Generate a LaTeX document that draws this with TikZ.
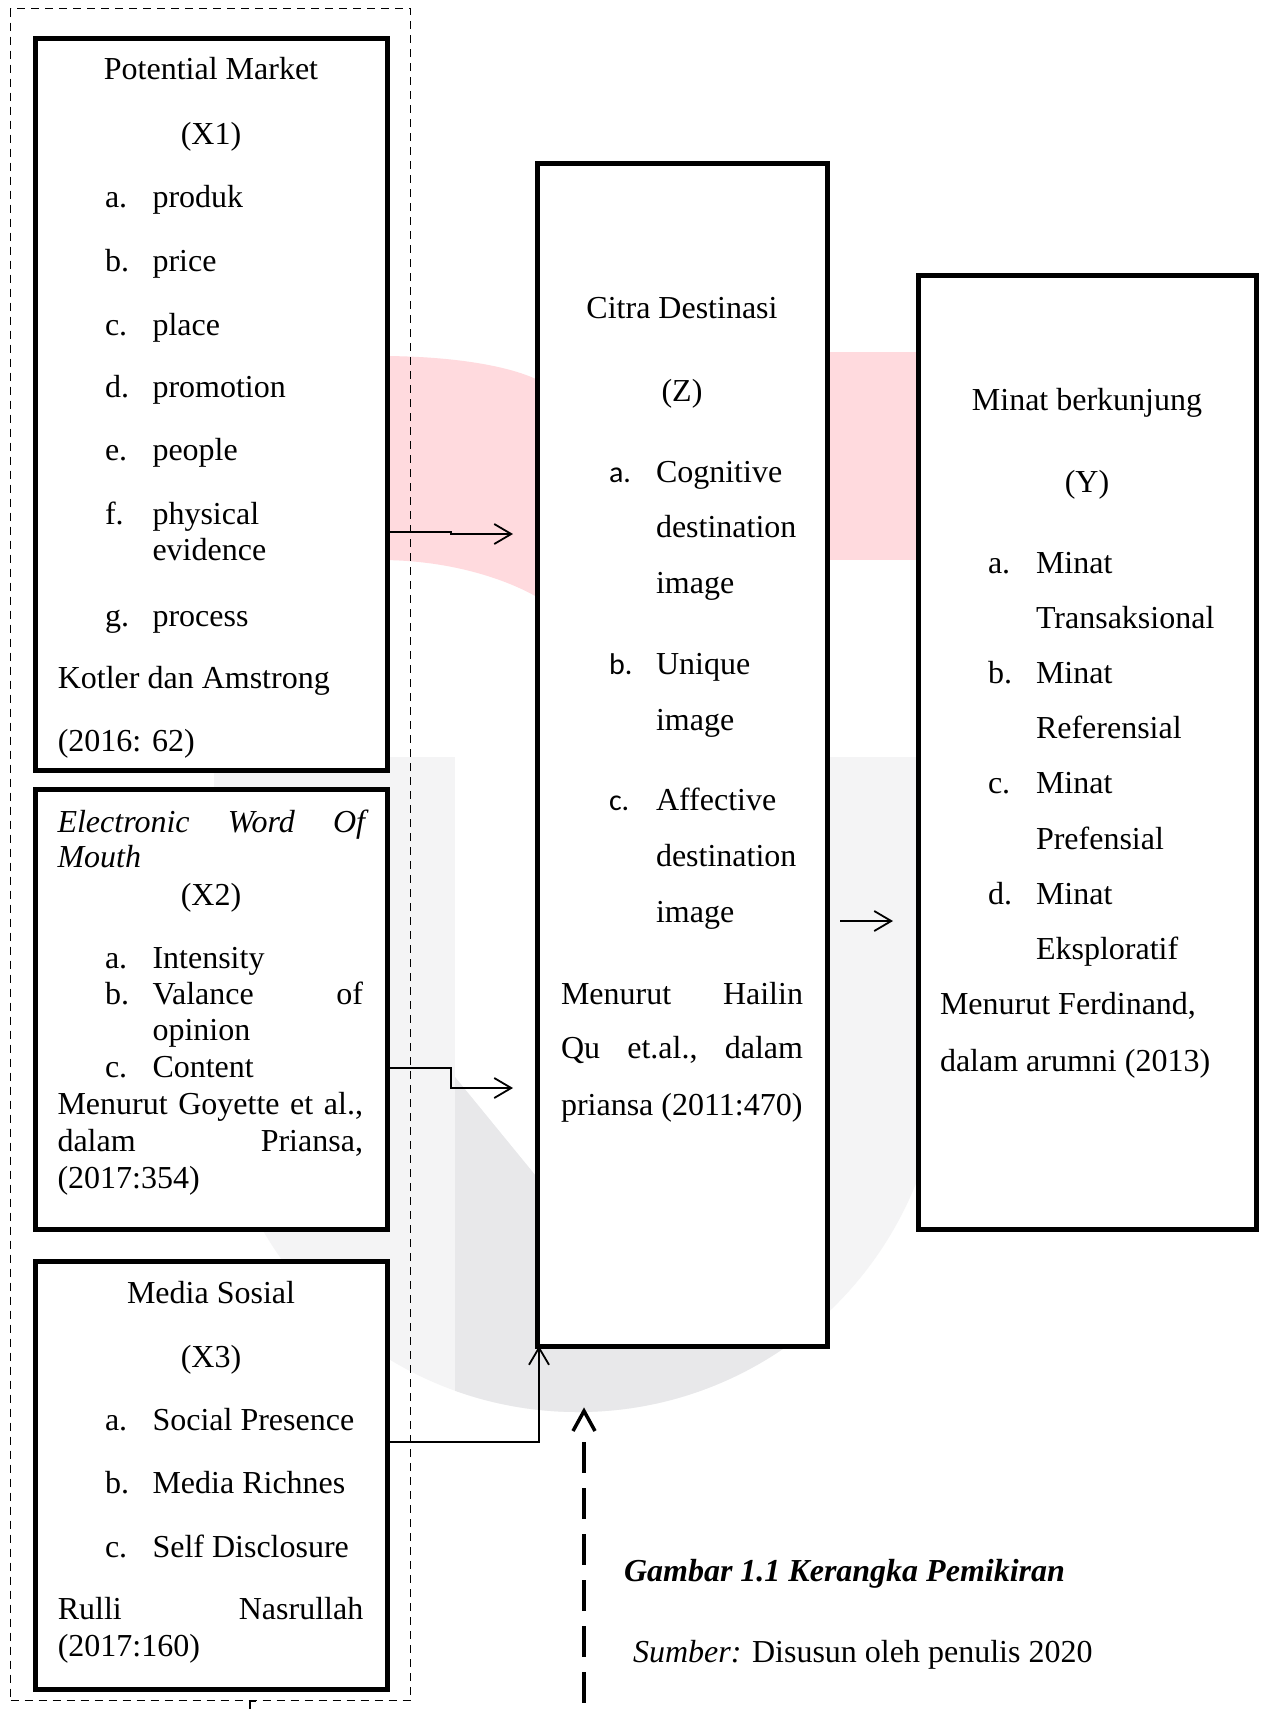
\documentclass[tikz,border=0pt]{standalone}
\usepackage{fontspec}
\setmainfont{Liberation Serif}
\newfontfamily\calibrifont{Carlito}
\usetikzlibrary{arrows.meta,calc}
\definecolor{wmpink}{RGB}{255,218,222}
\definecolor{wmgrey}{RGB}{244,244,245}
\definecolor{wmdark}{RGB}{232,232,234}
\begin{document}
\begin{tikzpicture}[x=1pt,y=-1pt,
  every node/.style={inner sep=0pt, outer sep=0pt, font=\fontsize{32}{38}\selectfont},
  box/.style={draw, line width=5pt, fill=white, rectangle},
  tl/.style={anchor=base west},
  tc/.style={anchor=base},
  jl/.style={anchor=base west, text width=#1, align=left},
  sl/.style={anchor=base west, font=\fontsize{30}{36}\calibrifont},
  conn/.style={line width=1.8pt},
  head/.style={-{Straight Barb[length=17pt,width=20pt,line width=1.8pt]}},
  grpbox/.style={draw, line width=1.5pt, dash pattern=on 8pt off 6pt, rectangle}
]
\useasboundingbox (0,0) rectangle (1263,1709);
\fill[white] (0,0) rectangle (1263,1709);

% ---- watermark ----
\fill[wmpink] (380,356) .. controls (460,356) and (520,368) .. (545,384) -- (545,602) .. controls (520,585) and (460,560) .. (380,560) -- cycle;
\fill[wmpink] (820,352) rectangle (925,560);
\def\bowlpath{(214,757) -- (942,757) -- (942,1048) arc[start angle=0, end angle=180, radius=364] -- cycle}
\fill[wmgrey] \bowlpath;
\begin{scope}
  \clip \bowlpath;
  \fill[white] (455,750) -- (455,1077) -- (540,1181) -- (540,750) -- cycle;
  \fill[wmdark] (455,1077) -- (540,1181) -- (827,1181) -- (827,1500) -- (455,1500) -- cycle;
\end{scope}

% ---- group frame ----
\node[grpbox, minimum width=400pt, minimum height=1692pt] (grp) at (210.5,854.5) {};
\draw[line width=2.5pt] (256,1701) -- (250,1701) -- (250,1712);

% ---- boxes ----
\node[box, minimum width=352pt, minimum height=732pt] (x1) at (211,404) {};
\node[box, minimum width=352pt, minimum height=440pt] (x2) at (211,1009) {};
\node[box, minimum width=352pt, minimum height=428pt] (x3) at (211,1475) {};
\node[box, minimum width=290pt, minimum height=1183pt] (z) at (682,754.5) {};
\node[box, minimum width=338pt, minimum height=954pt] (y) at (1087,752) {};

% ---- X1 text ----
\node[tc] (x1t1) at (211,79) {Potential Market};
\node[tc] (x1t2) at (211,144) {(X1)};
\node[tl] (x1a) at (105,207) {a.};   \node[tl] (x1at) at (152.5,207) {produk};
\node[tl] (x1b) at (105,271.5) {b.}; \node[tl] (x1bt) at (152.5,271.5) {price};
\node[tl] (x1c) at (105,335) {c.};   \node[tl] (x1ct) at (152.5,335) {place};
\node[tl] (x1d) at (105,397) {d.};   \node[tl] (x1dt) at (152.5,397) {promotion};
\node[tl] (x1e) at (105,460) {e.};   \node[tl] (x1et) at (152.5,460) {people};
\node[tl] (x1f) at (105,524) {f.};   \node[tl] (x1ft) at (152.5,524) {physical};
\node[tl] (x1ft2) at (152.5,560) {evidence};
\node[tl] (x1g) at (105,626) {g.};   \node[tl] (x1gt) at (152.5,626) {process};
\node[tl] (x1s1) at (57.8,688) {Kotler dan Amstrong};
\node[tl] (x1s2) at (57.8,751) {(2016: 62)};

% ---- X2 text ----
\node[jl=307.5pt] (x2t1) at (57.5,832) {\itshape Electronic\hfill Word\hfill Of};
\node[tl] (x2t1b) at (57.5,867) {\itshape Mouth};
\node[tc] (x2t2) at (211,905) {(X2)};
\node[tl] (x2a) at (105,968) {a.};    \node[tl] (x2at) at (152.5,968) {Intensity};
\node[tl] (x2b) at (105,1004) {b.};   \node[jl=210.5pt] (x2bt) at (152.5,1004) {Valance\hfill of};
\node[tl] (x2bt2) at (152.5,1040) {opinion};
\node[tl] (x2c) at (105,1077.7) {c.}; \node[tl] (x2ct) at (152.5,1077.7) {Content};
\node[jl=305.5pt] (x2s1) at (57.5,1114) {Menurut\hfill Goyette\hfill et\hfill al.,};
\node[jl=305.5pt] (x2s2) at (57.5,1151) {dalam\hfill Priansa,};
\node[tl] (x2s3) at (57.5,1188) {(2017:354)};

% ---- X3 text ----
\node[tc] (x3t1) at (211,1303.5) {Media Sosial};
\node[tc] (x3t2) at (211,1367) {(X3)};
\node[tl] (x3a) at (105,1430) {a.}; \node[tl] (x3at) at (152.5,1430) {Social Presence};
\node[tl] (x3b) at (105,1493) {b.}; \node[tl] (x3bt) at (152.5,1493) {Media Richnes};
\node[tl] (x3c) at (105,1557) {c.}; \node[tl] (x3ct) at (152.5,1557) {Self Disclosure};
\node[jl=305.5pt] (x3s1) at (57.8,1619.5) {Rulli\hfill Nasrullah};
\node[tl] (x3s2) at (57.8,1656.6) {(2017:160)};

% ---- Z text ----
\node[tc] (zt1) at (682,318.5) {Citra Destinasi};
\node[tc] (zt2) at (682,401) {(Z)};
\node[sl] (za) at (609,482) {a.};   \node[tl] (zat) at (656,482) {Cognitive};
\node[tl] (zat2) at (656,537.5) {destination};
\node[tl] (zat3) at (656,593) {image};
\node[sl] (zb) at (609,674) {b.};   \node[tl] (zbt) at (656,674) {Unique};
\node[tl] (zbt2) at (656,730) {image};
\node[sl] (zc) at (609,810) {c.};   \node[tl] (zct) at (656,810) {Affective};
\node[tl] (zct2) at (656,866.5) {destination};
\node[tl] (zct3) at (656,922) {image};
\node[jl=242pt] (zs1) at (561,1004) {Menurut\hfill Hailin};
\node[jl=242pt] (zs2) at (561,1058) {Qu\hfill et.al.,\hfill dalam};
\node[tl] (zs3) at (561,1115) {priansa (2011:470)};

% ---- Y text ----
\node[tc] (yt1) at (1087,410) {Minat berkunjung};
\node[tc] (yt2) at (1087,492) {(Y)};
\node[tl] (ya) at (988,573.5) {a.}; \node[tl] (yat) at (1036,573.5) {Minat};
\node[tl] (yat2) at (1036,628) {Transaksional};
\node[tl] (yb) at (988,683.5) {b.}; \node[tl] (ybt) at (1036,683.5) {Minat};
\node[tl] (ybt2) at (1036,738) {Referensial};
\node[tl] (yc) at (988,793.5) {c.}; \node[tl] (yct) at (1036,793.5) {Minat};
\node[tl] (yct2) at (1036,849) {Prefensial};
\node[tl] (yd) at (988,904.6) {d.}; \node[tl] (ydt) at (1036,904.6) {Minat};
\node[tl] (ydt2) at (1036,959) {Eksploratif};
\node[tl] (ys1) at (940,1014) {Menurut Ferdinand,};
\node[tl] (ys2) at (940,1071) {dalam arumni (2013)};

% ---- caption ----
\node[tl] (cap1) at (624,1581) {\bfseries\itshape Gambar 1.1 Kerangka Pemikiran};
\node[tl] (cap2) at (633,1662) {\textit{Sumber:} Disusun oleh penulis 2020};

% ---- connectors ----
\coordinate (h1) at (513,534);
\coordinate (h2) at (513,1088);
\draw[conn,head] (x1.east |- 0,532) -| (451,534) -- (h1);
\draw[conn,head] (x2.east |- 0,1068) -| (451,1088) -- (h2);
\draw[conn,head] (x3.east |- 0,1442) -| ([xshift=2pt]z.south west);
\draw[conn,head] ($(z.east |- 0,921)+(13,0)$) -- ($(y.west |- 0,921)+(-25,0)$);

% ---- dashed arrow ----
\coordinate (dtip) at (584,1411);
\coordinate (dstart) at (584,1442);
\coordinate (dend) at (584,1703);
\draw[line width=3.5pt, dash pattern=on 31pt off 15pt] (dstart) -- (dend);
\draw[line width=3.5pt, line join=miter] ($(dtip)+(-11,20)$) -- (dtip) -- ($(dtip)+(11,20)$);
\end{tikzpicture}
\end{document}
